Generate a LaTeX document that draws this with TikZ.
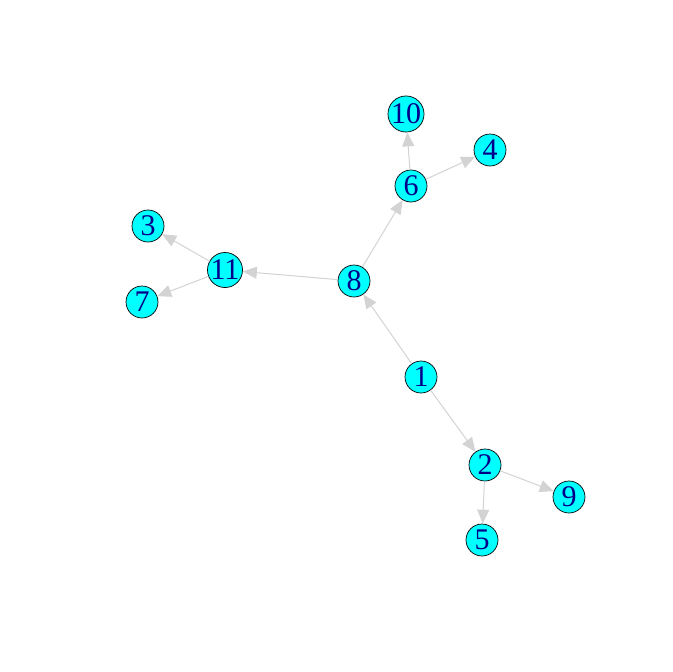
\documentclass[tikz,border=0pt]{standalone}
\usepackage{fontspec}
\setmainfont{Liberation Serif}
\usetikzlibrary{arrows.meta}
\definecolor{lbl}{HTML}{00008B}
\definecolor{edg}{HTML}{D3D3D3}
\definecolor{vfill}{HTML}{00FFFF}
\tikzset{
  vtx/.style={circle, draw=black, line width=0.7pt, fill=vfill, minimum size=32pt, inner sep=0pt,
    font=\fontsize{30}{30}\selectfont, text=lbl},
  edge/.style={draw=edg, line width=1pt, -{Triangle[length=14pt,width=12pt]}}
}
\begin{document}
\begin{tikzpicture}[x=1pt,y=-1pt]
\useasboundingbox (0,0) rectangle (672,672);
\node[vtx] (n10) at (406,114) {10};
\node[vtx] (n4) at (490,150) {4};
\node[vtx] (n6) at (411,186) {6};
\node[vtx] (n3) at (148,226) {3};
\node[vtx] (n11) at (225,270) {11};
\node[vtx] (n8) at (354,281) {8};
\node[vtx] (n7) at (142,302) {7};
\node[vtx] (n1) at (421,377) {1};
\node[vtx] (n2) at (485,465) {2};
\node[vtx] (n9) at (569,497) {9};
\node[vtx] (n5) at (482,540) {5};
\draw[edge] (n1) -- (n8);
\draw[edge] (n8) -- (n6);
\draw[edge] (n8) -- (n11);
\draw[edge] (n6) -- (n10);
\draw[edge] (n6) -- (n4);
\draw[edge] (n11) -- (n3);
\draw[edge] (n11) -- (n7);
\draw[edge] (n1) -- (n2);
\draw[edge] (n2) -- (n9);
\draw[edge] (n2) -- (n5);
\end{tikzpicture}
\end{document}
